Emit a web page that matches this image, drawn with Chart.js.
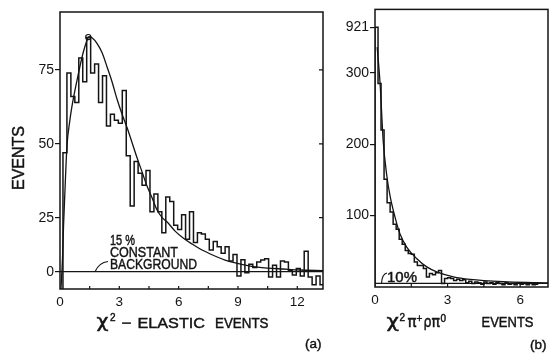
<!DOCTYPE html>
<html>
<head>
<meta charset="utf-8">
<title>χ² distributions</title>
<script src="https://cdn.jsdelivr.net/npm/chart.js@4/dist/chart.umd.min.js"></script>
<style>
  html, body { margin: 0; padding: 0; background: #ffffff; }
  #stage { position: relative; width: 550px; height: 354px; overflow: hidden; background: #ffffff; }
  #stage canvas { position: absolute; left: 0; top: 0; }
</style>
</head>
<body>
<div id="stage">
  <canvas id="elastic" width="550" height="354"></canvas>
  <canvas id="pip" width="550" height="354"></canvas>
</div>
<script>
// ---------- (a) chi-square of the elastic fit ----------
const elasticBinStart = 0.15;
const elasticBinWidth = 0.2;
const elasticCounts = [47, 74, 66, 64, 79, 71, 86, 74, 77, 64, 73, 56, 60, 58, 57, 68,
  46, 29, 44, 40, 36, 41, 27, 33, 27, 18, 32, 30.5, 21.5, 19.5, 26, 15, 27, 13.5, 18,
  17.5, 15, 10, 14, 11.5, 8.5, 11.6, 5, 8, -2, 5.5, -0.5, 3.5, 2, 4.5, 5.4, 6, -2.5, 3,
  -2.5, 5, 4.5, 0.5, -1.5, 1.5, -2, 9.5, -2.5, -6, -2, -6];
const elasticFitX = [0.05, 0.13, 0.18, 0.25, 0.35, 0.5, 0.6, 0.86, 1.17, 1.42, 1.47, 1.62,
  1.87, 2.13, 2.38, 2.63, 2.89, 3.14, 3.39, 3.65, 3.9, 4.15, 4.4, 4.66, 4.91, 5.17, 5.42,
  5.82, 6.23, 6.68, 7.09, 7.6, 7.95, 8.35, 8.76, 9.62, 10.48, 11.29, 12.15, 13.3];
const elasticFitY = [-8, 7, 21.5, 34, 49, 58, 62.5, 71.5, 80.8, 85.9, 86.3, 85.9,
  84, 80.8, 76, 71, 65, 60, 55.5, 50.3, 45.2, 40.5, 35.7, 31.7, 27.6, 25, 23,
  18.8, 15.6, 12.8, 10.5, 8.2, 6.8, 5.4, 4.3, 2.6, 1.7, 1.25, 0.8, 0.5];
const elasticPeakX = [1.43];
const elasticPeakY = [86.1];
const elasticBackground = 0;
const elasticXTicks = [0, 3, 6, 9, 12];
const elasticYTicks = [0, 25, 50, 75];
const elasticXRange = [0, 13.3];
const elasticYRange = [-8, 94.6];

// ---------- (b) chi-square of the pi+ p pi0 fit ----------
const pipBinStart = 0;
const pipBinWidth = 0.125;
const pipCounts = [921, 285, 220, 151, 118, 105, 88, 81, 67, 60, 51, 47, 46, 35, 30, 30,
  26, 14, 19, 17, 20, 23, 5, 12, 13, 12, 9, 11, 9, 10, 6, 8, 5, 7, 6, 4, 7, 5, 6, 4, 6,
  5, 3, 6, 4, 5, 3, 6, 4, 5, 3, 5, 3, 4];
const pipFitX = [0.09, 0.21, 0.34, 0.48, 0.62, 0.83, 1.03, 1.31, 1.72, 2.14, 2.55, 3.24,
  3.93, 5.3, 6.68, 7.15];
const pipFitY = [650, 285, 204, 158, 128, 97.6, 74.6, 56, 40, 28.2, 21.2, 14.3,
  10.7, 7.4, 6, 5.6];
const pipBackground = 5;
const pipXTicks = [0, 3, 6];
const pipYTicks = [100, 200, 300, 921];
const pipXRange = [0, 7.15];
const pipYRange = [0, 1164];

const INK = '#141414';
const FONT = '"Liberation Sans", Arial, sans-serif';
const GREEK = '"DejaVu Sans", "Liberation Sans", sans-serif';

// Linear scale whose spacing changes from one segment to the next
// (used for the stretched lower part in (a) and the broken top in (b)).
class PiecewiseScale extends Chart.LinearScale {
  _seg(arr, keyIn, keyOut, v) {
    let i = 0;
    while (i < arr.length - 2 && v > arr[i + 1][keyIn]) i++;
    const a = arr[i], b = arr[i + 1];
    return a[keyOut] + (v - a[keyIn]) * (b[keyOut] - a[keyOut]) / (b[keyIn] - a[keyIn]);
  }
  _toDisplay(v) { return this._seg(this._knots, 0, 1, v); }
  _fromDisplay(d) { return this._seg(this._knots, 1, 0, d); }
  configure() {
    const kn = this.options.knots;
    this._knots = [];
    for (let i = 0; i < kn.length; i++) this._knots.push([kn[i][0], kn[i][1]]);
    super.configure();
    this._startValue = this._toDisplay(this.min);
    this._endValue = this._toDisplay(this.max);
    this._valueRange = this._endValue - this._startValue;
  }
  getPixelForValue(v) {
    if (v === null || v === undefined || isNaN(v)) return NaN;
    return this.getPixelForDecimal((this._toDisplay(v) - this._startValue) / this._valueRange);
  }
  getValueForPixel(p) {
    return this._fromDisplay(this._startValue + this.getDecimalForPixel(p) * this._valueRange);
  }
}
PiecewiseScale.id = 'piecewise';
PiecewiseScale.defaults = Chart.LinearScale.defaults;
Chart.register(PiecewiseScale);

function histogramPoints(start, width, counts, base) {
  const pts = [{ x: start, y: base }];
  counts.forEach((c, i) => pts.push({ x: start + i * width, y: c }));
  pts.push({ x: start + counts.length * width, y: counts[counts.length - 1] });
  return pts;
}
function zipPoints(xs, ys) { return xs.map((x, i) => ({ x, y: ys[i] })); }

// Draws one piece of lettering, optionally squeezed/stretched to a width,
// with a hair-line outline to give the heavier stencil look.
function fitText(ctx, s, left, base, size, width, family) {
  ctx.save();
  ctx.font = size + 'px ' + (family || FONT);
  ctx.textAlign = 'left';
  ctx.textBaseline = 'alphabetic';
  const w = ctx.measureText(s).width;
  ctx.translate(left, base);
  if (width) ctx.scale(width / w, 1);
  ctx.fillText(s, 0, 0);
  ctx.lineWidth = 0.45;
  ctx.strokeText(s, 0, 0);
  ctx.restore();
}

// Box around the plotting area plus short inward ticks
const framePlugin = {
  id: 'frame',
  afterDatasetsDraw(chart, args, opts) {
    const { ctx, chartArea: a } = chart;
    const xs = chart.scales.x, ys = chart.scales.y;
    ctx.save();
    ctx.strokeStyle = INK;
    ctx.lineWidth = 1.5;
    ctx.strokeRect(a.left, a.top, a.right - a.left, a.bottom - a.top);
    ctx.lineWidth = 1.2;
    ctx.beginPath();
    (opts.minorX || []).forEach(v => {
      const px = xs.getPixelForValue(v);
      ctx.moveTo(px, a.bottom); ctx.lineTo(px, a.bottom - 3);
    });
    (opts.rightY || []).forEach(v => {
      const py = ys.getPixelForValue(v);
      ctx.moveTo(a.right, py); ctx.lineTo(a.right - 4, py);
    });
    ctx.stroke();
    ctx.restore();
  }
};

const elasticText = {
  id: 'elasticText',
  afterDraw(chart) {
    const ctx = chart.ctx, ys = chart.scales.y;
    ctx.save();
    ctx.fillStyle = INK; ctx.strokeStyle = INK;
    ctx.save();
    ctx.translate(24, 158);
    ctx.rotate(-Math.PI / 2);
    fitText(ctx, 'EVENTS', -32, 0, 16, 64);
    ctx.restore();
    fitText(ctx, 'χ', 96.5, 327, 17, 12, GREEK);
    fitText(ctx, '2', 110, 320.5, 10);
    fitText(ctx, '−', 121.5, 327.5, 15, 10);
    fitText(ctx, 'ELASTIC', 137.5, 328, 14.5, 67.5);
    fitText(ctx, 'EVENTS', 215, 328, 14.5, 53.5);
    fitText(ctx, '(a)', 305, 348, 13.5);
    const yb = ys.getPixelForValue(elasticBackground);
    ctx.lineWidth = 1.1;
    ctx.beginPath();
    ctx.moveTo(95, yb);
    ctx.quadraticCurveTo(99, 262.5, 108, 261.5);
    ctx.stroke();
    fitText(ctx, '15 %', 110, 245, 15, 25);
    fitText(ctx, 'CONSTANT', 110, 257, 15, 68);
    fitText(ctx, 'BACKGROUND', 110, 269, 15, 87);
    ctx.restore();
  }
};

const pipText = {
  id: 'pipText',
  afterDraw(chart) {
    const ctx = chart.ctx, ys = chart.scales.y;
    ctx.save();
    ctx.fillStyle = INK; ctx.strokeStyle = INK;
    fitText(ctx, 'χ', 386.5, 327, 17, 12.5, GREEK);
    fitText(ctx, '2', 399.5, 321, 10);
    fitText(ctx, 'π', 407.5, 327, 15, 9, GREEK);
    fitText(ctx, '+', 416.5, 322, 10);
    fitText(ctx, 'ρ', 423.5, 327, 15, 8, GREEK);
    fitText(ctx, 'π', 431.5, 327, 15, 8.5, GREEK);
    fitText(ctx, '0', 440.5, 322, 10);
    fitText(ctx, 'EVENTS', 481.5, 327, 14.5, 52);
    fitText(ctx, '(b)', 530, 349, 13.5);
    const yb = ys.getPixelForValue(pipBackground);
    ctx.lineWidth = 1.1;
    ctx.beginPath();
    ctx.moveTo(381.5, yb);
    ctx.quadraticCurveTo(382, 274, 387, 273);
    ctx.stroke();
    fitText(ctx, '10%', 387, 281.5, 14, 30);
    ctx.restore();
  }
};

function baseOptions(pad, yWidth, xHeight, xRange, yRange, knots, xTicks, yTicks, frameOpts, tickFont) {
  return {
    responsive: false,
    animation: false,
    devicePixelRatio: 1,
    events: [],
    layout: { padding: pad },
    plugins: { legend: { display: false }, tooltip: { enabled: false }, frame: frameOpts },
    scales: {
      x: {
        type: 'linear', bounds: 'data', min: xRange[0], max: xRange[1],
        afterBuildTicks: s => { s.ticks = xTicks.map(v => ({ value: v })); },
        afterFit: s => { s.height = xHeight; },
        grid: { display: false, drawTicks: false },
        border: { display: false },
        ticks: { autoSkip: false, maxRotation: 0, padding: 5, color: INK,
                 font: { family: FONT, size: tickFont }, callback: v => String(v) }
      },
      y: {
        type: 'piecewise', bounds: 'data', min: yRange[0], max: yRange[1], knots,
        afterBuildTicks: s => { s.ticks = yTicks.map(v => ({ value: v })); },
        afterFit: s => { s.width = yWidth; },
        grid: { display: true, drawOnChartArea: false, drawTicks: true, tickLength: 5,
                color: INK, lineWidth: 1.2 },
        border: { display: false },
        ticks: { autoSkip: false, padding: 1, color: INK,
                 font: { family: FONT, size: 14 }, callback: v => String(v) }
      }
    }
  };
}

const lineStyle = { borderColor: INK, borderWidth: 1.4, pointRadius: 0, fill: false };

new Chart(document.getElementById('elastic'), {
  type: 'line',
  data: {
    datasets: [
      Object.assign({ label: 'background', data: [{ x: elasticXRange[0], y: elasticBackground }, { x: elasticXRange[1], y: elasticBackground }] }, lineStyle, { borderWidth: 1.3 }),
      Object.assign({ label: 'events', stepped: 'before', data: histogramPoints(elasticBinStart, elasticBinWidth, elasticCounts, elasticYRange[0]) }, lineStyle, { borderWidth: 1.5 }),
      Object.assign({ label: 'fit', cubicInterpolationMode: 'monotone', data: zipPoints(elasticFitX, elasticFitY) }, lineStyle, { borderWidth: 1.3 }),
      { label: 'peak', type: 'scatter', data: zipPoints(elasticPeakX, elasticPeakY), pointRadius: 2.6,
        pointBorderWidth: 1.2, pointBorderColor: INK, pointBackgroundColor: '#ffffff', showLine: false }
    ]
  },
  options: baseOptions({ left: 0, right: 227, top: 12, bottom: 0 }, 60, 65, elasticXRange, elasticYRange,
    [[-8, 0], [25, 0.2574], [94.6, 1]], elasticXTicks, elasticYTicks,
    { minorX: [1.5, 3, 4.5, 6, 7.5, 9, 10.5, 12], rightY: [25, 50, 75] }, 13.5),
  plugins: [framePlugin, elasticText]
});

new Chart(document.getElementById('pip'), {
  type: 'line',
  data: {
    datasets: [
      Object.assign({ label: 'background', data: [{ x: pipXRange[0], y: pipBackground }, { x: pipXRange[1], y: pipBackground }] }, lineStyle, { borderWidth: 1.3 }),
      Object.assign({ label: 'events', stepped: 'before', data: histogramPoints(pipBinStart, pipBinWidth, pipCounts, pipYRange[0]) }, lineStyle, { borderWidth: 1.5 }),
      Object.assign({ label: 'fit', cubicInterpolationMode: 'monotone', data: zipPoints(pipFitX, pipFitY) }, lineStyle, { borderWidth: 1.3 })
    ]
  },
  options: baseOptions({ left: 330, right: 2, top: 7, bottom: 0 }, 45, 67, pipXRange, pipYRange,
    [[0, 0], [300, 0.7714], [921, 0.9357], [1164, 1]], pipXTicks, pipYTicks,
    { minorX: [1.5, 3, 4.5, 6], rightY: [] }, 13.5),
  plugins: [framePlugin, pipText]
});
</script>
</body>
</html>
